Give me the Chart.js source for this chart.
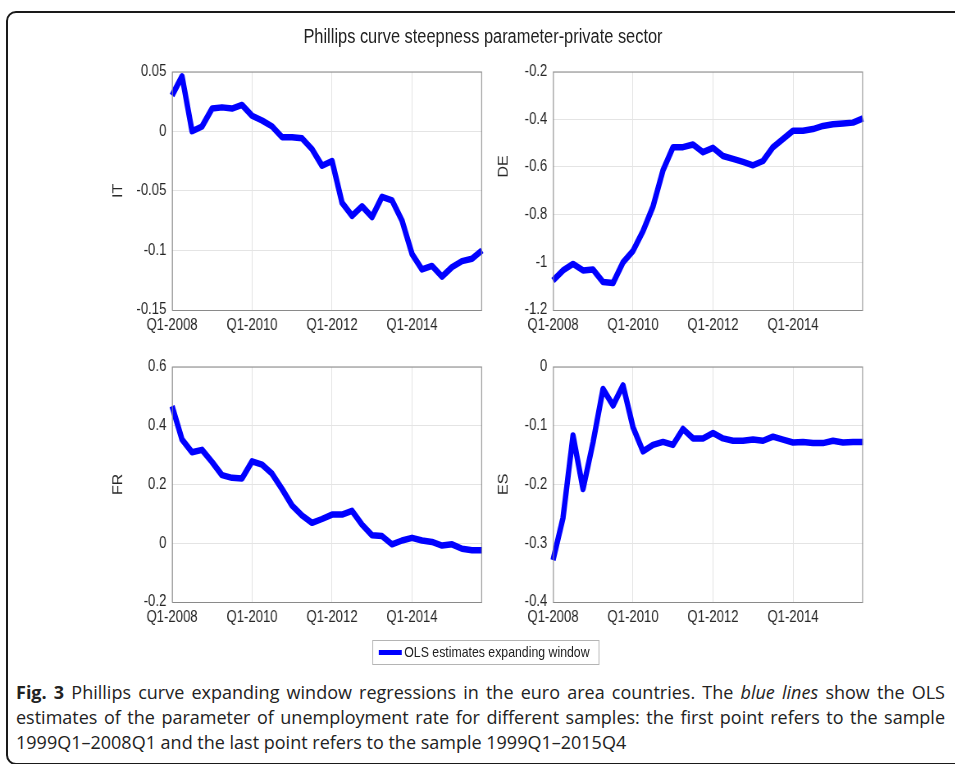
<!DOCTYPE html>
<html>
<head>
<meta charset="utf-8">
<script src="https://cdn.jsdelivr.net/npm/chart.js@4.4.0/dist/chart.umd.min.js"></script>
<style>
  body { margin:0; width:955px; height:764px; background:#fff; overflow:hidden; position:relative; }
  #frame { position:absolute; left:6px; top:11px; width:1000px; height:750px; border:2px solid #1a1a1a; border-radius:10px; }
  #fig { position:absolute; left:0; top:0; width:1165px; height:680px; transform:scaleX(0.82); transform-origin:0 0; }
  #fig canvas { position:absolute; }
  #title { position:absolute; left:0; width:1178px; top:25px; text-align:center; font:20px "Liberation Sans", Arial, sans-serif; color:#222; }
  #legend { position:absolute; left:454px; top:640px; width:275px; height:23px; border:1px solid #b4b4b4; font:15px "Liberation Sans", Arial, sans-serif; color:#222; }
  #legend .sw { position:absolute; left:7px; top:9px; width:28px; height:5px; background:#0000ff; }
  #legend .tx { position:absolute; left:38px; top:2px; white-space:nowrap; }
  #caption { position:absolute; left:16px; top:680px; width:929px; font:18px "Open Sans", "Noto Sans", sans-serif; color:#222; line-height:25px; }
  #caption div.j { text-align:justify; text-align-last:justify; }
</style>
</head>
<body>
<div id="frame"></div>
<div id="fig">
  <div id="title">Phillips curve steepness parameter-private sector</div>
  <canvas id="cIT" width="480" height="285" style="left:120px;top:55px"></canvas>
  <canvas id="cDE" width="480" height="285" style="left:605px;top:55px"></canvas>
  <canvas id="cFR" width="480" height="282" style="left:120px;top:350px"></canvas>
  <canvas id="cES" width="480" height="282" style="left:605px;top:350px"></canvas>
  <div id="legend"><div class="sw"></div><div class="tx">OLS estimates expanding window</div></div>
</div>
<div id="caption">
  <div class="j"><b>Fig. 3</b> Phillips curve expanding window regressions in the euro area countries. The <i>blue lines</i> show the OLS</div>
  <div class="j">estimates of the parameter of unemployment rate for different samples: the first point refers to the sample</div>
  <div>1999Q1–2008Q1 and the last point refers to the sample 1999Q1–2015Q4</div>
</div>
<script>
let quarters = ['Q1-2008','Q2-2008','Q3-2008','Q4-2008','Q1-2009','Q2-2009','Q3-2009','Q4-2009',
  'Q1-2010','Q2-2010','Q3-2010','Q4-2010','Q1-2011','Q2-2011','Q3-2011','Q4-2011',
  'Q1-2012','Q2-2012','Q3-2012','Q4-2012','Q1-2013','Q2-2013','Q3-2013','Q4-2013',
  'Q1-2014','Q2-2014','Q3-2014','Q4-2014','Q1-2015','Q2-2015','Q3-2015','Q4-2015']

let it = [0.030,0.046,-0.000,0.004,0.019,0.020,0.019,0.022,0.013,0.009,0.004,-0.005,-0.005,-0.006,-0.015,-0.029,
  -0.025,-0.060,-0.071,-0.063,-0.072,-0.055,-0.058,-0.075,-0.103,-0.116,-0.113,-0.122,-0.114,-0.109,-0.107,-0.100]
let de = [-1.076,-1.034,-1.007,-1.034,-1.030,-1.083,-1.087,-1.000,-0.952,-0.869,-0.766,-0.614,-0.517,-0.517,-0.506,-0.538,
  -0.520,-0.554,-0.566,-0.579,-0.593,-0.575,-0.517,-0.483,-0.448,-0.448,-0.441,-0.428,-0.421,-0.418,-0.414,-0.396]
let fr = [0.466,0.352,0.309,0.317,0.276,0.231,0.222,0.220,0.278,0.267,0.236,0.184,0.128,0.094,0.069,0.082,
  0.097,0.097,0.110,0.063,0.027,0.024,-0.004,0.009,0.018,0.009,0.004,-0.008,-0.004,-0.019,-0.024,-0.024]
let es = [-0.329,-0.257,-0.117,-0.208,-0.129,-0.038,-0.066,-0.032,-0.103,-0.144,-0.133,-0.128,-0.133,-0.106,-0.122,-0.122,
  -0.113,-0.122,-0.126,-0.126,-0.124,-0.126,-0.119,-0.124,-0.129,-0.128,-0.130,-0.130,-0.126,-0.129,-0.128,-0.128]

// y-axis ranges [min, max, step]
let itRange = [-0.15, 0.05, 0.05]
let deRange = [-1.2, -0.2, 0.2]
let frRange = [-0.2, 0.6, 0.2]
let esRange = [-0.4, 0, 0.1]

const boxPlugin = {
  id: 'box',
  afterDraw(chart) {
    const a = chart.chartArea, ctx = chart.ctx
    ctx.save()
    ctx.strokeStyle = '#8a8a8a'
    ctx.lineWidth = 1
    ctx.strokeRect(a.left + 0.5, a.top + 0.5, a.right - a.left - 1, a.bottom - a.top)
    ctx.restore()
  }
}

function makeChart(id, label, values, range, yWidth, padRight, titlePad) {
  return new Chart(document.getElementById(id).getContext('2d'), {
    type: 'line',
    data: {
      labels: quarters,
      datasets: [{
        label: 'OLS estimates expanding window',
        data: values,
        borderColor: '#0000ff',
        borderWidth: 6.5,
        borderJoinStyle: 'round',
        pointRadius: 0,
        tension: 0,
        fill: false
      }]
    },
    options: {
      responsive: false,
      animation: false,
      devicePixelRatio: 1,
      layout: { padding: { top: 13, right: padRight, left: 0, bottom: 0 } },
      plugins: { legend: { display: false }, tooltip: { enabled: false } },
      scales: {
        x: {
          afterFit: s => { s.height = 30 },
          grid: {
            drawTicks: false,
            color: c => (c.index % 8 === 0 ? '#e4e4e4' : 'rgba(0,0,0,0)')
          },
          border: { display: false },
          ticks: {
            autoSkip: false, maxRotation: 0, padding: 6,
            color: '#262626', font: { family: 'Liberation Sans', size: 16 },
            callback: (v, i) => (i % 8 === 0 ? quarters[i] : '')
          }
        },
        y: {
          min: range[0], max: range[1],
          afterFit: s => { s.width = yWidth },
          grid: { drawTicks: false, color: '#e4e4e4' },
          border: { display: false },
          ticks: {
            stepSize: range[2], padding: 7,
            color: '#262626', font: { family: 'Liberation Sans', size: 16 },
            callback: v => String(+v.toFixed(2))
          },
          title: {
            display: true, text: label, color: '#262626',
            font: { family: 'Liberation Sans', size: 16 },
            padding: { top: titlePad, bottom: 0 }
          }
        }
      }
    },
    plugins: [boxPlugin]
  })
}

makeChart('cIT', 'IT', it, itRange, 89.8, 12.2, 14.5)
// the DE label sits higher than the axis centre in the original
makeChart('cDE', '           DE', de, deRange, 69.4, 32.6, 0)
makeChart('cFR', 'FR', fr, frRange, 89.8, 12.2, 14.5)
makeChart('cES', 'ES', es, esRange, 69.4, 32.6, 0)
</script>
</body>
</html>
